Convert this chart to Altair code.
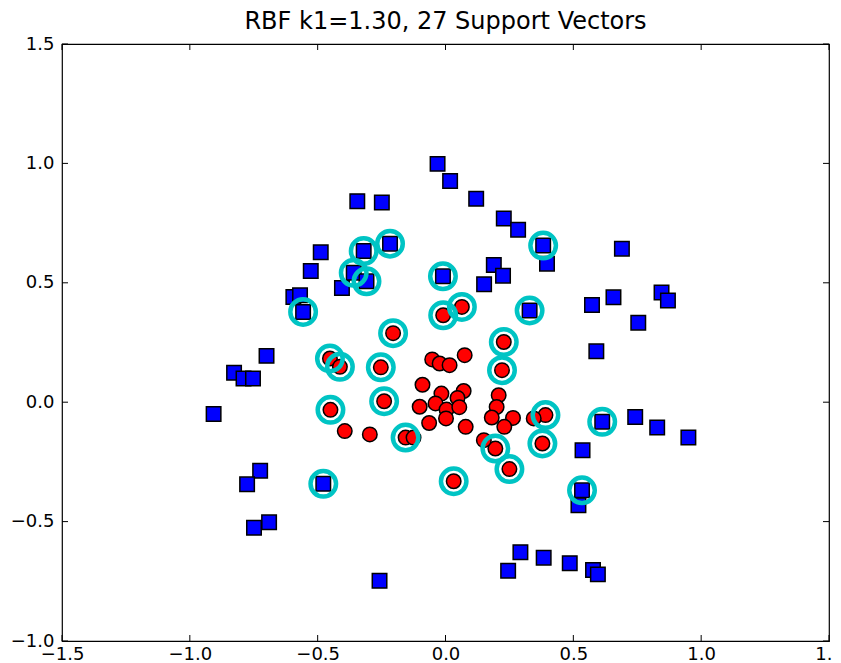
import altair as alt
import pandas as pd

title_text = "RBF k1=1.30, 27 Support Vectors"
x_ticks = [-1.5, -1.0, -0.5, 0.0, 0.5, 1.0, 1.5]
y_ticks = [-1.0, -0.5, 0.0, 0.5, 1.0, 1.5]

# class -1 (blue squares); sv = 1 marks a support vector
blue_x = [-0.031, 0.018, 0.120, 0.228, 0.284, -0.345, -0.249, -0.217, -0.320, -0.488,
          -0.527, -0.359, -0.309, -0.405, -0.595, -0.569, -0.557, -0.010, 0.189, 0.225,
          0.151, 0.382, 0.397, 0.329, 0.690, 0.573, 0.657, 0.754, 0.845, 0.870,
          0.590, -0.700, -0.827, -0.790, -0.753, -0.907, 0.613, 0.742, 0.828, 0.950,
          0.536, 0.534, 0.520, -0.725, -0.776, -0.478, -0.690, -0.749, -0.258, 0.293,
          0.245, 0.384, 0.486, 0.577, 0.596]
blue_y = [0.998, 0.926, 0.852, 0.769, 0.722, 0.842, 0.836, 0.664, 0.633, 0.628,
          0.549, 0.542, 0.506, 0.478, 0.441, 0.448, 0.378, 0.527, 0.575, 0.530,
          0.494, 0.656, 0.580, 0.384, 0.643, 0.407, 0.439, 0.333, 0.459, 0.426,
          0.213, 0.194, 0.123, 0.099, 0.099, -0.049, -0.082, -0.062, -0.106, -0.148,
          -0.201, -0.369, -0.432, -0.287, -0.344, -0.342, -0.503, -0.526, -0.748, -0.628,
          -0.706, -0.651, -0.674, -0.703, -0.721]
blue_sv = [0, 0, 0, 0, 0, 0, 0, 1, 1, 0,
           0, 1, 1, 0, 0, 0, 1, 1, 0, 0,
           0, 1, 0, 1, 0, 0, 0, 0, 0, 0,
           0, 0, 0, 0, 0, 0, 1, 0, 0, 0,
           0, 1, 0, 0, 0, 1, 0, 0, 0, 0,
           0, 0, 0, 0, 0]

# class +1 (red circles)
red_x = [-0.205, 0.064, -0.009, 0.228, -0.452, -0.413, -0.253, 0.221, -0.240, -0.450,
         0.391, -0.156, 0.195, 0.379, 0.250, 0.032,
         -0.394, -0.296, -0.125, -0.052, -0.023, 0.016, 0.075, -0.090, -0.016, 0.071,
         0.047, -0.039, -0.101, 0.004, 0.054, 0.002, -0.064, 0.079, 0.208, 0.200,
         0.181, 0.264, 0.230, 0.150, 0.345]
red_y = [0.289, 0.399, 0.364, 0.252, 0.183, 0.148, 0.146, 0.134, 0.004, -0.032,
         -0.054, -0.148, -0.194, -0.173, -0.280, -0.331,
         -0.121, -0.135, -0.148, 0.179, 0.162, 0.155, 0.197, 0.073, 0.036, 0.047,
         0.018, -0.005, -0.019, -0.031, -0.021, -0.068, -0.087, -0.103, 0.029, -0.020,
         -0.064, -0.066, -0.103, -0.159, -0.068]
red_sv = [1, 1, 1, 1, 1, 1, 1, 1, 1, 1,
          1, 1, 1, 1, 1, 1,
          0, 0, 0, 0, 0, 0, 0, 0, 0, 0,
          0, 0, 0, 0, 0, 0, 0, 0, 0, 0,
          0, 0, 0, 0, 0]

blue = pd.DataFrame({"x": blue_x, "y": blue_y, "sv": blue_sv})
red = pd.DataFrame({"x": red_x, "y": red_y, "sv": red_sv})
sv = pd.concat([red[red.sv == 1], blue[blue.sv == 1]])
xt = pd.DataFrame({"x": x_ticks})
yt = pd.DataFrame({"y": y_ticks})

W, H = 767, 597
FONT = "DejaVu Sans"
xscale = alt.Scale(domain=[-1.5, 1.5], nice=False, zero=False)
yscale = alt.Scale(domain=[-1.0, 1.5], nice=False, zero=False)

xaxis = alt.Axis(values=x_ticks, format=".1f", ticks=False, domain=False, grid=False,
                 title=None, labelFontSize=18, labelFont=FONT, labelColor="black",
                 labelPadding=4, labelBaseline="top",
                 labelFlush=False, labelOverlap=False, labelBound=False)
yaxis = alt.Axis(values=y_ticks, format=".1f", ticks=False, domain=False, grid=False,
                 title=None, labelFontSize=18, labelFont=FONT, labelColor="black",
                 labelPadding=8, labelFlush=False, labelOverlap=False, labelBound=False)

X = alt.X("x:Q", scale=xscale, axis=xaxis)
Y = alt.Y("y:Q", scale=yscale, axis=yaxis)

squares = alt.Chart(blue).mark_point(
    shape="square", filled=True, fill="#0000FF", stroke="black", strokeWidth=1.5,
    size=210, opacity=1
).encode(x=X, y=Y)

circles = alt.Chart(red).mark_point(
    shape="circle", filled=True, fill="#FF0000", stroke="black", strokeWidth=1.5,
    size=210, opacity=1
).encode(x=X, y=Y)

rings = alt.Chart(sv).mark_point(
    shape="circle", filled=False, stroke="#00C4C4", strokeWidth=4.5, size=650, opacity=1
).encode(x=X, y=Y)

TL = 6
tick_top = alt.Chart(xt).mark_rule(color="black", strokeWidth=1).encode(
    x=X, y=alt.value(0), y2=alt.value(TL))
tick_bot = alt.Chart(xt).mark_rule(color="black", strokeWidth=1).encode(
    x=X, y=alt.value(H), y2=alt.value(H - TL))
tick_left = alt.Chart(yt).mark_rule(color="black", strokeWidth=1).encode(
    y=Y, x=alt.value(0), x2=alt.value(TL))
tick_right = alt.Chart(yt).mark_rule(color="black", strokeWidth=1).encode(
    y=Y, x=alt.value(W), x2=alt.value(W - TL))

chart = alt.layer(
    squares, circles, rings, tick_top, tick_bot, tick_left, tick_right
).properties(
    width=W, height=H,
    background="white",
    title=alt.Title(title_text, fontSize=24, font=FONT, fontWeight="normal",
                    color="black", anchor="middle", offset=1),
    autosize=alt.AutoSizeParams(type="none"),
    padding={"left": 54, "top": 36, "right": 4, "bottom": 24},
).configure_view(
    stroke="black", strokeWidth=1.2
)

chart.save("out.html", embed_options={"renderer": "svg", "actions": False})
